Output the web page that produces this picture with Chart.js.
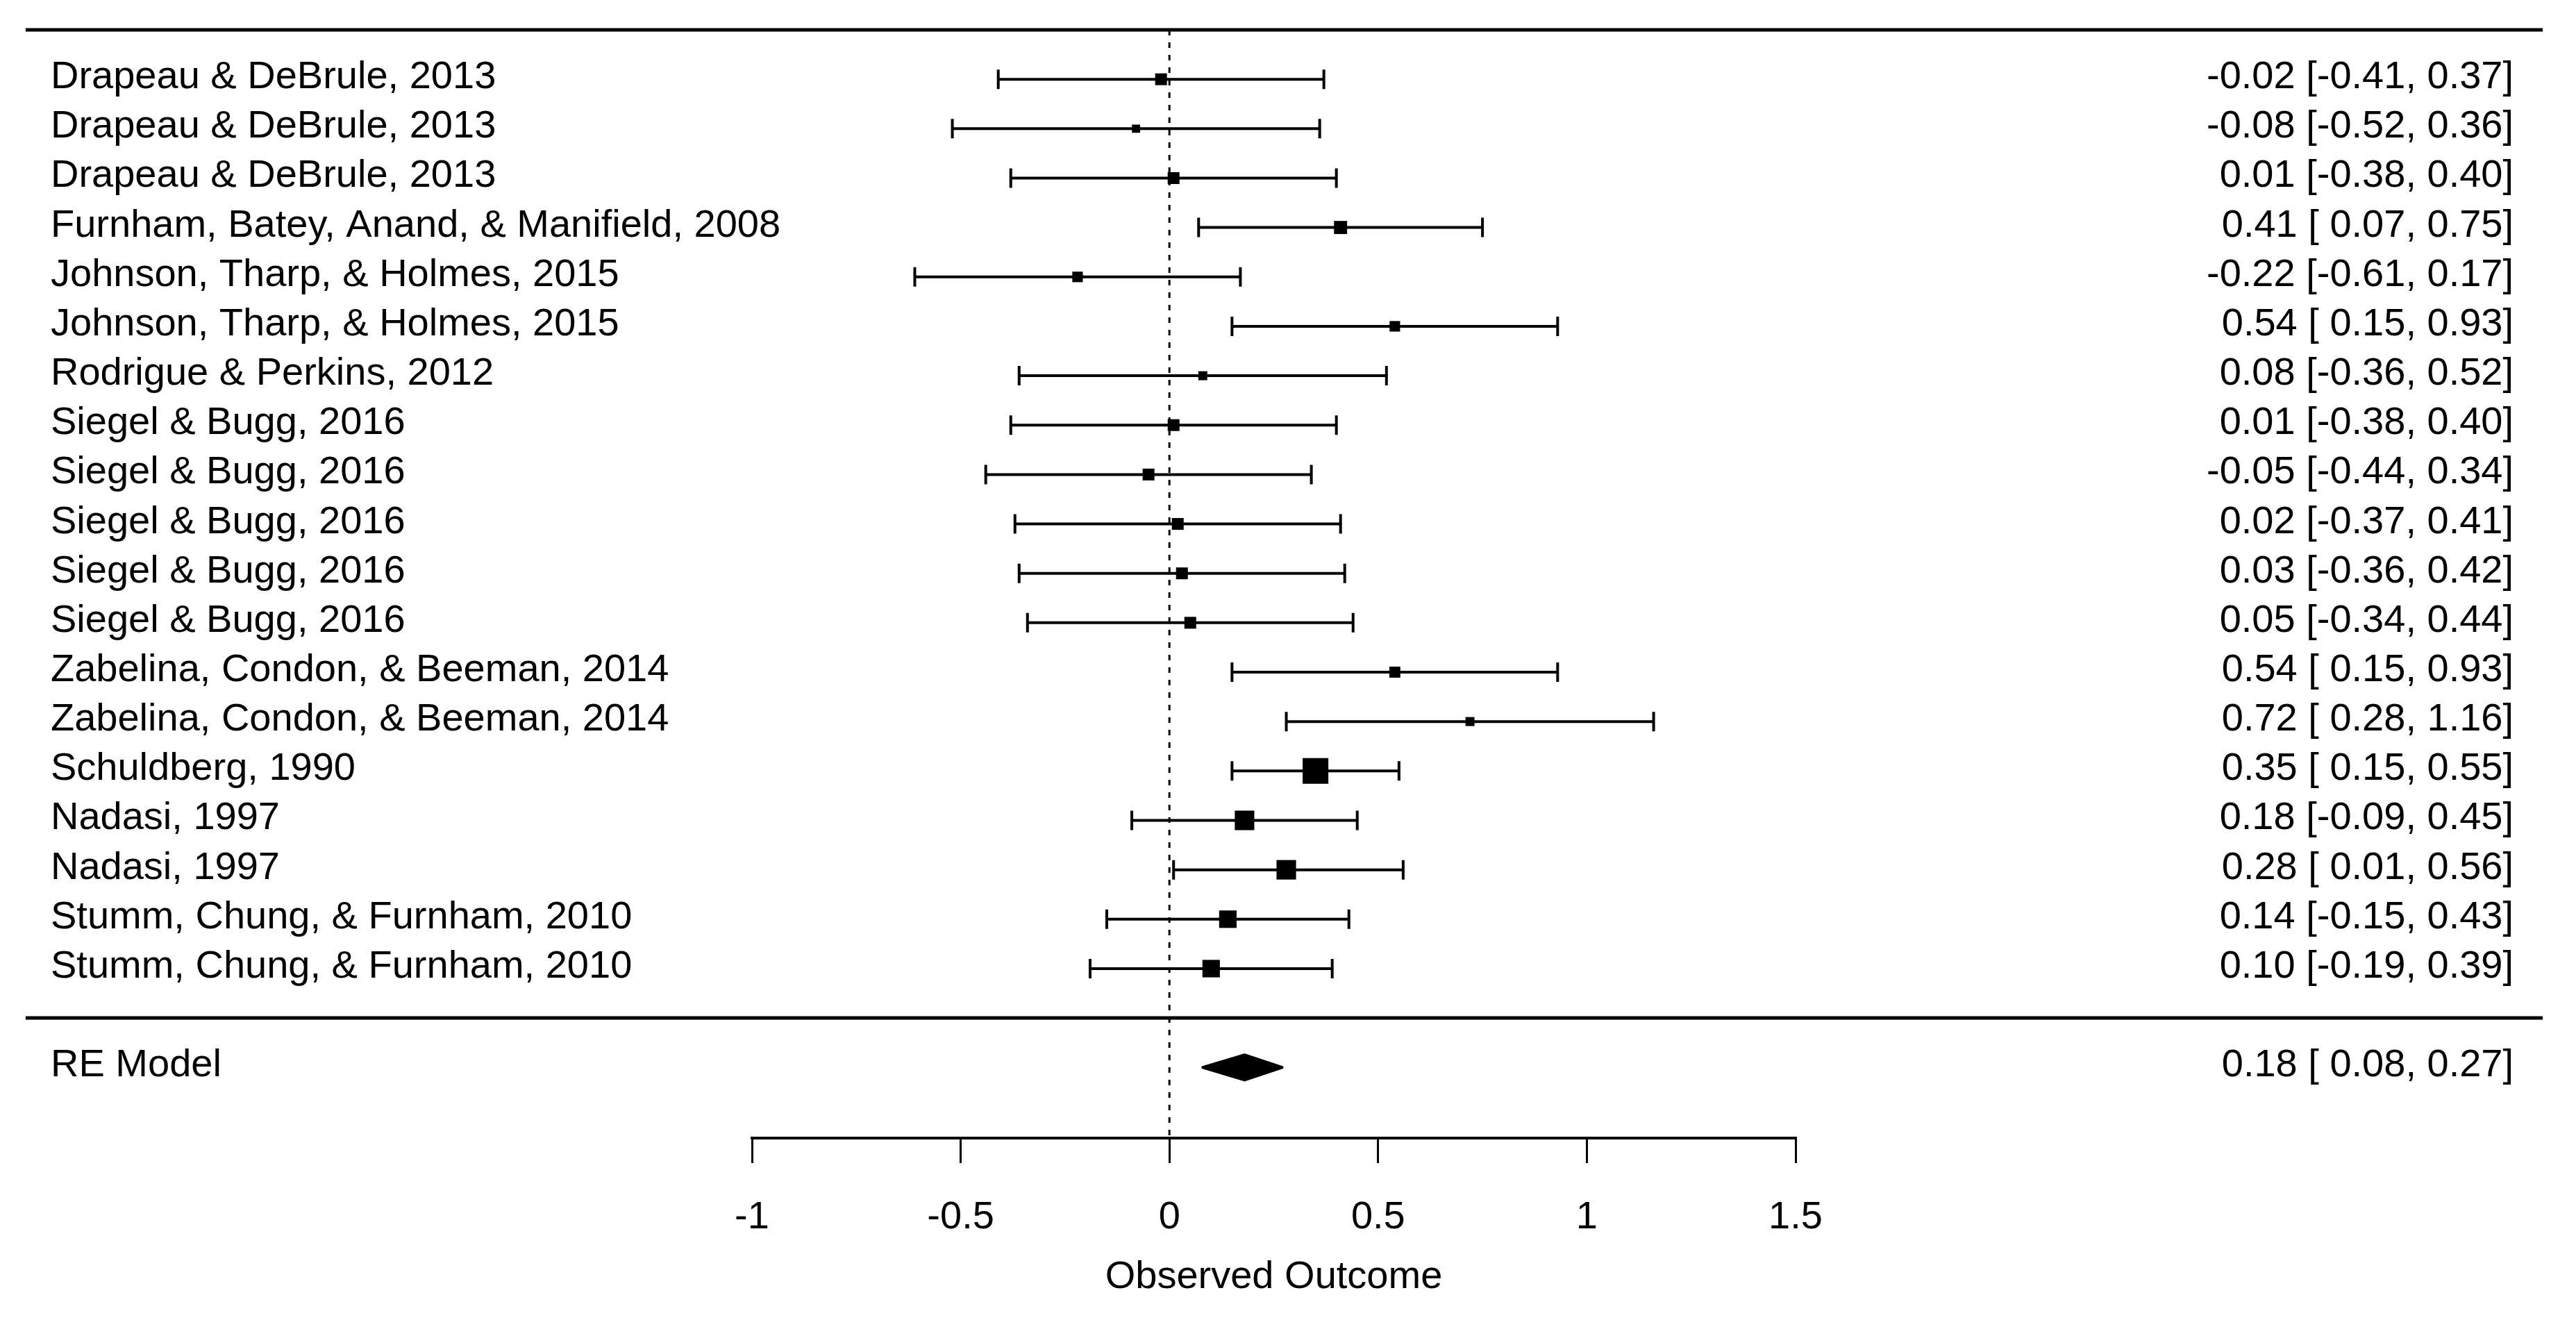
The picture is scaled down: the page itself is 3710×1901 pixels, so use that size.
<!DOCTYPE html>
<html lang="en">
<head>
    <meta charset="UTF-8">
    <title>Forest plot</title>
    <script src="https://cdn.jsdelivr.net/npm/chart.js"></script>
    <style>
        body {
            margin: 0;
            background: #fff;
        }
        #forestChart {
            display: block;
        }
    </style>
</head>
<body>
    <canvas id="forestChart" width="3710" height="1901"></canvas>

    <script>
        // Study labels, top to bottom
        const studies = [
            'Drapeau & DeBrule, 2013',
            'Drapeau & DeBrule, 2013',
            'Drapeau & DeBrule, 2013',
            'Furnham, Batey, Anand, & Manifield, 2008',
            'Johnson, Tharp, & Holmes, 2015',
            'Johnson, Tharp, & Holmes, 2015',
            'Rodrigue & Perkins, 2012',
            'Siegel & Bugg, 2016',
            'Siegel & Bugg, 2016',
            'Siegel & Bugg, 2016',
            'Siegel & Bugg, 2016',
            'Siegel & Bugg, 2016',
            'Zabelina, Condon, & Beeman, 2014',
            'Zabelina, Condon, & Beeman, 2014',
            'Schuldberg, 1990',
            'Nadasi, 1997',
            'Nadasi, 1997',
            'Stumm, Chung, & Furnham, 2010',
            'Stumm, Chung, & Furnham, 2010'
        ];
        const estimates = [-0.02, -0.08, 0.01, 0.41, -0.22, 0.54, 0.08, 0.01, -0.05, 0.02, 0.03, 0.05, 0.54, 0.72, 0.35, 0.18, 0.28, 0.14, 0.10];
        const lower = [-0.41, -0.52, -0.38, 0.07, -0.61, 0.15, -0.36, -0.38, -0.44, -0.37, -0.36, -0.34, 0.15, 0.28, 0.15, -0.09, 0.01, -0.15, -0.19];
        const upper = [0.37, 0.36, 0.40, 0.75, 0.17, 0.93, 0.52, 0.40, 0.34, 0.41, 0.42, 0.44, 0.93, 1.16, 0.55, 0.45, 0.56, 0.43, 0.39];
        // relative square size (largest = 1)
        const weights = [0.46, 0.32, 0.46, 0.51, 0.41, 0.41, 0.35, 0.46, 0.46, 0.46, 0.46, 0.46, 0.43, 0.35, 1.00, 0.76, 0.76, 0.68, 0.68];

        // summary (RE model)
        const summaryLabel = 'RE Model';
        const summaryEst = 0.18;
        const summaryLower = 0.08;
        const summaryUpper = 0.27;

        const xTicks = [-1, -0.5, 0, 0.5, 1, 1.5];
        const xTitle = 'Observed Outcome';

        const k = studies.length;
        const rowOf = i => k - i;      // 19 .. 1
        const summaryRow = -1;
        const yTop = k + 1;            // top rule
        const yBottom = -2.43;
        const xlim = [-2.74, 3.29];    // plot region used by the rules
        const labelX = -2.68;
        const annotX = 3.22;

        const FONT = '"Liberation Sans", Arial, sans-serif';
        const FONT_SIZE = 56;
        const maxSide = 37;

        // R style: pad positive numbers if the column has negatives
        function fmtCol(arr) {
            const hasNeg = arr.some(v => v < 0);
            return v => (hasNeg && v >= 0 ? ' ' : '') + v.toFixed(2);
        }
        const fEst = fmtCol(estimates.concat([summaryEst]));
        const fLo = fmtCol(lower.concat([summaryLower]));
        const fHi = fmtCol(upper.concat([summaryUpper]));
        const annot = (e, l, h) => `${fEst(e)} [${fLo(l)}, ${fHi(h)}]`;

        const forestPlugin = {
            id: 'forest',
            beforeDatasetsDraw(chart) {
                const { ctx, scales: { x, y } } = chart;
                ctx.save();
                ctx.strokeStyle = '#000';
                ctx.lineWidth = 4;
                ctx.lineCap = 'butt';
                studies.forEach((s, i) => {
                    const py = y.getPixelForValue(rowOf(i));
                    const x1 = x.getPixelForValue(lower[i]);
                    const x2 = x.getPixelForValue(upper[i]);
                    ctx.beginPath();
                    ctx.moveTo(x1, py); ctx.lineTo(x2, py);
                    ctx.moveTo(x1, py - 14); ctx.lineTo(x1, py + 14);
                    ctx.moveTo(x2, py - 14); ctx.lineTo(x2, py + 14);
                    ctx.stroke();
                });
                ctx.restore();
            },
            afterDraw(chart) {
                const { ctx, scales: { x, y } } = chart;
                ctx.save();

                // horizontal rules
                ctx.strokeStyle = '#000';
                ctx.lineWidth = 5;
                [yTop, 0].forEach(v => {
                    const py = y.getPixelForValue(v);
                    ctx.beginPath();
                    ctx.moveTo(x.getPixelForValue(xlim[0]), py);
                    ctx.lineTo(x.getPixelForValue(xlim[1]), py);
                    ctx.stroke();
                });

                // summary diamond
                const sy = y.getPixelForValue(summaryRow);
                ctx.fillStyle = '#000';
                ctx.lineWidth = 4;
                ctx.lineJoin = 'round';
                ctx.beginPath();
                ctx.moveTo(x.getPixelForValue(summaryLower), sy);
                ctx.lineTo(x.getPixelForValue(summaryEst), sy - 18);
                ctx.lineTo(x.getPixelForValue(summaryUpper), sy);
                ctx.lineTo(x.getPixelForValue(summaryEst), sy + 18);
                ctx.closePath();
                ctx.fill();
                ctx.stroke();

                // text columns
                ctx.font = `${FONT_SIZE}px ${FONT}`;
                ctx.textBaseline = 'alphabetic';
                const lx = x.getPixelForValue(labelX);
                const rx = x.getPixelForValue(annotX);
                studies.forEach((s, i) => {
                    const py = y.getPixelForValue(rowOf(i)) + 13;
                    ctx.textAlign = 'left';
                    ctx.fillText(s, lx, py);
                    ctx.textAlign = 'right';
                    ctx.fillText(annot(estimates[i], lower[i], upper[i]), rx, py);
                });
                ctx.textAlign = 'left';
                ctx.fillText(summaryLabel, lx, sy + 13);
                ctx.textAlign = 'right';
                ctx.fillText(annot(summaryEst, summaryLower, summaryUpper), rx, sy + 13);

                ctx.restore();
            }
        };

        const ctx = document.getElementById('forestChart').getContext('2d');
        const chart = new Chart(ctx, {
            type: 'scatter',
            data: {
                datasets: [
                    {
                        // reference line at 0
                        type: 'line',
                        data: [{ x: 0, y: yTop }, { x: 0, y: yBottom }],
                        borderColor: '#000',
                        borderWidth: 3,
                        borderDash: [8, 10],
                        pointRadius: 0,
                        fill: false
                    },
                    {
                        data: estimates.map((v, i) => ({ x: v, y: rowOf(i) })),
                        pointStyle: 'rect',
                        pointRadius: weights.map(w => w * maxSide / (2 * Math.SQRT1_2)),
                        backgroundColor: '#000',
                        borderWidth: 0
                    }
                ]
            },
            options: {
                responsive: false,
                devicePixelRatio: 1,
                animation: false,
                events: [],
                layout: {
                    padding: { left: 1083, right: 1124, top: 43, bottom: 0 }
                },
                plugins: {
                    legend: { display: false },
                    tooltip: { enabled: false }
                },
                scales: {
                    x: {
                        type: 'linear',
                        min: -1,
                        max: 1.5,
                        afterBuildTicks: s => { s.ticks = xTicks.map(v => ({ value: v })); },
                        afterFit: s => { s.height = 262; },
                        ticks: {
                            color: '#000',
                            font: { family: FONT, size: FONT_SIZE },
                            padding: 45,
                            maxRotation: 0,
                            callback: v => String(v)
                        },
                        grid: {
                            drawOnChartArea: false,
                            drawTicks: true,
                            tickLength: 36,
                            lineWidth: 3,
                            color: '#000'
                        },
                        border: { display: true, color: '#000', width: 4 },
                        title: {
                            display: true,
                            text: xTitle,
                            color: '#000',
                            font: { family: FONT, size: FONT_SIZE },
                            padding: { top: 28, bottom: 28 }
                        }
                    },
                    y: {
                        type: 'linear',
                        display: false,
                        min: yBottom,
                        max: yTop
                    }
                }
            },
            plugins: [forestPlugin]
        });
    </script>
</body>
</html>
